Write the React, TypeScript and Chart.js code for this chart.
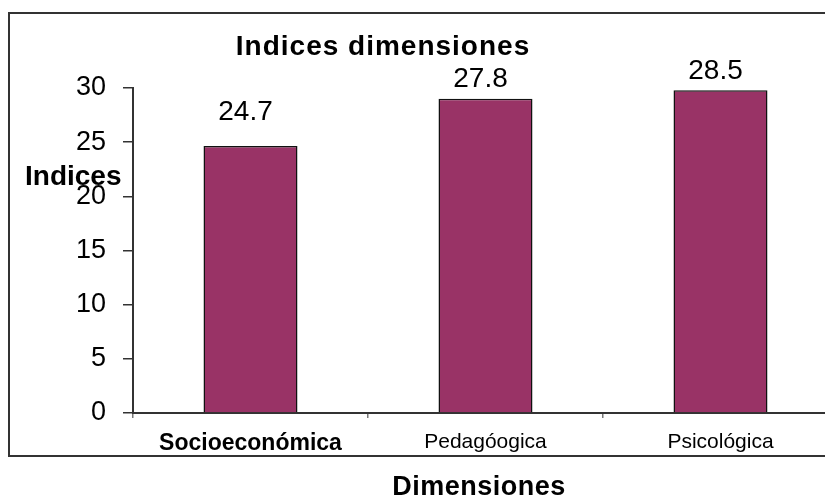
import React, { useEffect, useRef } from "react";
import { Chart, registerables } from "chart.js";

Chart.register(...registerables);

const categories = ["Socioeconómica", "Pedagóogica", "Psicológica"];
const barValues = [24.65, 29.0, 29.8];
const dataLabels = ["24.7", "27.8", "28.5"];
const yTicks = [0, 5, 10, 15, 20, 25, 30];
const chartTitle = "Indices dimensiones";
const yTitle = "Indices";
const xTitle = "Dimensiones";

const FONT = "'Liberation Sans', Arial, sans-serif";

const textPlugin = {
  id: "textPlugin",
  afterDraw(chart: any) {
    const ctx = chart.ctx;
    const area = chart.chartArea;
    const yScale = chart.scales.y;
    const meta = chart.getDatasetMeta(0);
    ctx.save();
    ctx.fillStyle = "#000";
    // data labels
    ctx.font = `28px ${FONT}`;
    ctx.textAlign = "center";
    ctx.textBaseline = "alphabetic";
    meta.data.forEach((bar: any, i: number) => {
      const v = parseFloat(dataLabels[i]);
      ctx.fillText(dataLabels[i], bar.x - 5, yScale.getPixelForValue(v) - 25);
    });
    // chart title
    ctx.font = `bold 28px ${FONT}`;
    ctx.textAlign = "center";
    (ctx as any).letterSpacing = "1px";
    ctx.fillText(chartTitle, area.left + 250, 55);
    (ctx as any).letterSpacing = "0px";
    // y title
    ctx.textAlign = "left";
    ctx.fillText(yTitle, 25, 185);
    // x title
    ctx.font = `bold 27px ${FONT}`;
    ctx.textAlign = "center";
    (ctx as any).letterSpacing = "0.5px";
    ctx.fillText(xTitle, area.left + 346, 495);
    ctx.restore();
  },
};

export default function App() {
  const ref = useRef<HTMLCanvasElement | null>(null);
  useEffect(() => {
    if (!ref.current) return;
    const chart = new Chart(ref.current, {
      type: "bar",
      data: {
        labels: categories,
        datasets: [
          {
            data: barValues,
            backgroundColor: "#993366",
            borderColor: "#111",
            borderWidth: 1.5,
            barPercentage: 0.4,
            categoryPercentage: 1,
          },
        ],
      },
      options: {
        responsive: false,
        animation: false,
        layout: { padding: { top: 88, right: 2, left: 0, bottom: 0 } },
        plugins: {
          legend: { display: false },
          tooltip: { enabled: false },
          title: { display: false },
        },
        scales: {
          x: {
            offset: true,
            afterFit: (s: any) => {
              s.height = 85;
            },
            grid: {
              offset: true,
              drawOnChartArea: false,
              drawTicks: true,
              tickLength: 5,
              color: "#777",
              lineWidth: 1.5,
            },
            border: { display: true, color: "#333", width: 2 },
            ticks: {
              color: "#000",
              padding: 12,
              maxRotation: 0,
              autoSkip: false,
              font: (c: any) =>
                c.index === 0
                  ? { family: FONT, size: 23, weight: "bold" }
                  : { family: FONT, size: 21, weight: "normal" },
            },
          },
          y: {
            min: 0,
            max: 30,
            afterFit: (s: any) => {
              s.width = 133;
            },
            afterBuildTicks: (s: any) => {
              s.ticks = yTicks.map((v) => ({ value: v }));
            },
            grid: {
              drawOnChartArea: false,
              drawTicks: true,
              tickLength: 10,
              color: "#333",
              lineWidth: 1.5,
            },
            border: { display: true, color: "#333", width: 2 },
            ticks: {
              color: "#000",
              padding: 17,
              font: { family: FONT, size: 27 },
            },
          },
        },
      },
      plugins: [textPlugin],
    });
    return () => chart.destroy();
  }, []);

  return (
    <div
      style={{
        position: "fixed",
        left: 0,
        top: 0,
        width: 825,
        height: 498,
        overflow: "hidden",
        background: "#fff",
      }}
    >
      <canvas
        ref={ref}
        width={840}
        height={498}
        style={{ position: "absolute", left: 0, top: 0, width: 840, height: 498, display: "block" }}
      />
      <div
        style={{
          position: "absolute",
          left: 8,
          top: 12,
          width: 900,
          height: 441,
          border: "2px solid #333",
          pointerEvents: "none",
        }}
      />
    </div>
  );
}
